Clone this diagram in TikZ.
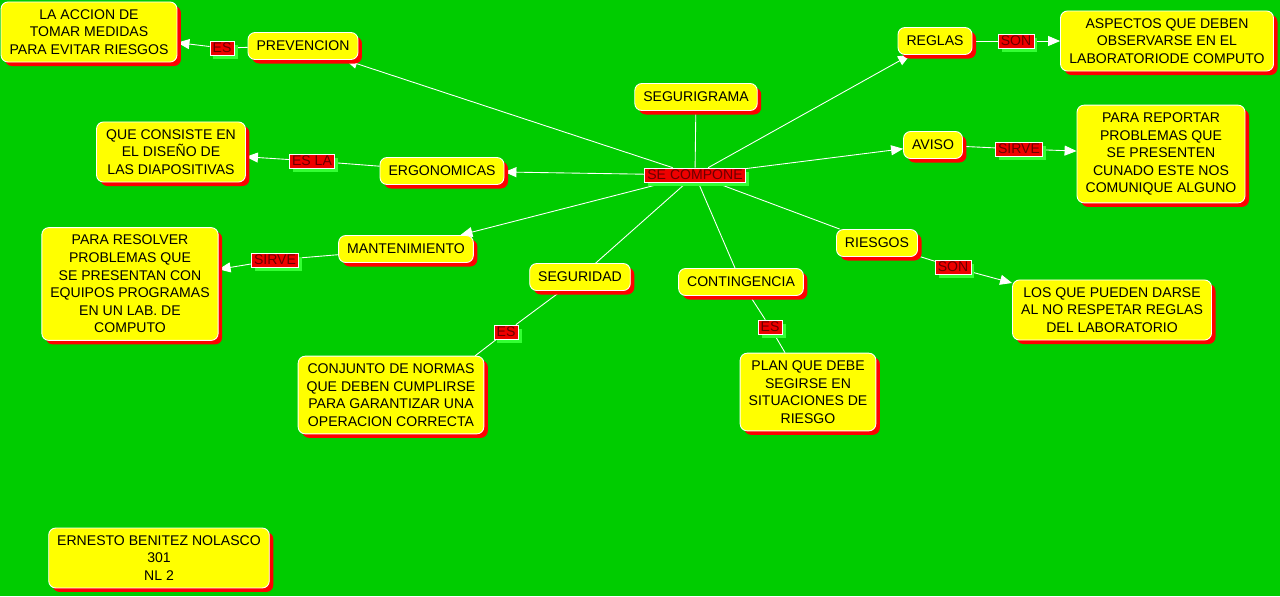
\documentclass[tikz,border=0pt]{standalone}
\usepackage{fontspec}
\setmainfont{Liberation Sans}
\usetikzlibrary{arrows.meta,shadows}
\definecolor{field}{HTML}{00CC00}
\definecolor{boxfill}{HTML}{FFFF00}
\definecolor{boxshade}{HTML}{FF0000}
\definecolor{tagfill}{HTML}{EE0000}
\definecolor{tagtext}{HTML}{6A0000}
\definecolor{tagshade}{HTML}{33FF33}
\pgfdeclarelayer{ground}
\pgfdeclarelayer{edges}
\pgfsetlayers{ground,edges,main}

\begin{document}
\begin{tikzpicture}[
  x=0.02cm,y=-0.02cm,
  link/.style={draw=white,line width=0.5pt},
  flow/.style={link,-{Triangle[length=2.4mm,width=2mm]}},
  box/.style={draw=white,line width=0.5pt,rounded corners=4pt,fill=boxfill,
    align=center,font=\fontsize{8}{10}\selectfont,
    inner xsep=0.17cm,inner ysep=0.15cm,minimum height=0.54cm,
    drop shadow={shadow xshift=0.08cm,shadow yshift=-0.08cm,fill=boxshade,opacity=1}},
  tag/.style={draw=white,line width=0.4pt,fill=tagfill,text=tagtext,
    font=\fontsize{8}{10}\selectfont,inner xsep=1.5pt,inner ysep=0pt,
    minimum height=0.28cm,
    drop shadow={shadow xshift=0.07cm,shadow yshift=-0.07cm,fill=tagshade,opacity=1}}
]
\begin{pgfonlayer}{ground}
\fill[field] (0,0) rectangle (1280,596);
\end{pgfonlayer}
\useasboundingbox (0,0) rectangle (1280,596);

\node[box] (main) at (696,97) {SEGURIGRAMA};
\node[tag] (parts) at (695,175) {SE COMPONE};

\node[box] (prev) at (303,46) {PREVENCION};
\node[tag] (prev-tag) at (222,48) {ES};
\node[box,minimum width=3.52cm] (prev-def) at (89,32)
  {LA ACCION DE\\TOMAR MEDIDAS\\PARA EVITAR RIESGOS};

\node[box] (rules) at (935,41) {REGLAS};
\node[tag] (rules-tag) at (1016,41) {SON};
\node[box,minimum width=4.26cm] (rules-def) at (1167,41)
  {ASPECTOS QUE DEBEN\\OBSERVARSE EN EL\\LABORATORIODE COMPUTO};

\node[box] (notice) at (933,145) {AVISO};
\node[tag] (notice-tag) at (1019,149) {SIRVE};
\node[box,minimum width=3.36cm] (notice-def) at (1161,154)
  {PARA REPORTAR\\PROBLEMAS QUE\\SE PRESENTEN\\CUNADO ESTE NOS\\COMUNIQUE ALGUNO};

\node[box] (ergo) at (442,171) {ERGONOMICAS};
\node[tag] (ergo-tag) at (312,161) {ES LA};
\node[box,minimum width=2.98cm] (ergo-def) at (171,152)
  {QUE CONSISTE EN\\EL DISEÑO DE\\LAS DIAPOSITIVAS};

\node[box] (maint) at (406,249) {MANTENIMIENTO};
\node[tag] (maint-tag) at (275,260) {SIRVE};
\node[box,minimum width=3.5cm] (maint-def) at (130,284)
  {PARA RESOLVER\\PROBLEMAS QUE\\SE PRESENTAN CON\\EQUIPOS PROGRAMAS\\EN UN LAB. DE\\COMPUTO};

\node[box] (safety) at (580,277) {SEGURIDAD};
\node[tag] (safety-tag) at (506,332) {ES};
\node[box,minimum width=3.7cm] (safety-def) at (391,395)
  {CONJUNTO DE NORMAS\\QUE DEBEN CUMPLIRSE\\PARA GARANTIZAR UNA\\OPERACION CORRECTA};

\node[box] (cont) at (741,282) {CONTINGENCIA};
\node[tag] (cont-tag) at (770,327) {ES};
\node[box,minimum width=2.7cm] (cont-def) at (808,392)
  {PLAN QUE DEBE\\SEGIRSE EN\\SITUACIONES DE\\RIESGO};

\node[box] (risk) at (877,243) {RIESGOS};
\node[tag] (risk-tag) at (953,267) {SON};
\node[box,minimum width=3.98cm] (risk-def) at (1112,310)
  {LOS QUE PUEDEN DARSE\\AL NO RESPETAR REGLAS\\DEL LABORATORIO};

\node[box,minimum width=4.38cm] (author) at (159,558)
  {ERNESTO BENITEZ NOLASCO\\301\\NL 2};

\begin{pgfonlayer}{edges}
\draw[link] (main) -- (parts);
\foreach \n in {prev,rules,notice,ergo,maint}
  \draw[flow] (parts) -- (\n);
\foreach \n in {safety,cont,risk}
  \draw[link] (parts) -- (\n);
\foreach \n in {prev,rules,notice,ergo,maint,risk}{
  \draw[link] (\n) -- (\n-tag);
  \draw[flow] (\n-tag) -- (\n-def);
}
\draw[link] (safety) -- (safety-tag);
\draw[link] (safety-tag) -- (safety-def.25);
\draw[link] (cont) -- (cont-tag);
\draw[link] (cont-tag) -- (cont-def);
\end{pgfonlayer}
\end{tikzpicture}
\end{document}
